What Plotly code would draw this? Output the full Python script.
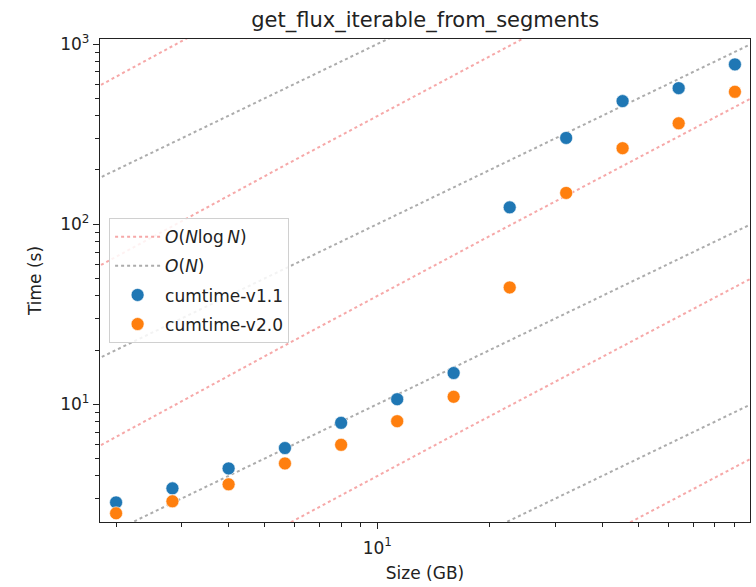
import numpy as np
import plotly.graph_objects as go

# Data
size_gb = [2.0, 2.83, 4.0, 5.66, 8.0, 11.3, 16.0, 22.6, 32.0, 45.3, 64.0, 90.5]
time_v11 = [2.85, 3.41, 4.40, 5.71, 7.88, 10.66, 14.9, 123.9, 301, 482, 569, 771]
time_v20 = [2.48, 2.89, 3.59, 4.69, 5.95, 8.05, 11.0, 44.5, 149, 264, 363, 543]

# Reference-curve coefficients
nlogn_coefs = [0.01, 0.1, 1, 10, 100]
n_coefs = [0.01, 0.1, 1, 10, 100]

xlog_range = [0.258, 1.997]
ylog_range = [0.346, 3.028]

xs = np.logspace(np.log10(1.5), np.log10(120), 300)

fig = go.Figure()

for i, c in enumerate(nlogn_coefs):
    fig.add_trace(go.Scatter(
        x=xs, y=c * xs * np.log10(1000 * xs), mode="lines",
        line=dict(color="rgba(240,110,110,0.6)", width=2, dash="dot"),
        name="<i>O</i>(<i>N</i>log\u2009<i>N</i>)", showlegend=(i == 0),
        legendgroup="a", hoverinfo="skip"))

for i, c in enumerate(n_coefs):
    fig.add_trace(go.Scatter(
        x=xs, y=c * xs, mode="lines",
        line=dict(color="rgba(128,128,128,0.65)", width=2, dash="dot"),
        name="<i>O</i>(<i>N</i>)", showlegend=(i == 0),
        legendgroup="b", hoverinfo="skip"))

fig.add_trace(go.Scatter(
    x=size_gb, y=time_v11, mode="markers", name="cumtime-v1.1",
    legendgroup="c",
    marker=dict(color="#1f77b4", size=13, line=dict(width=0.6, color="white"))))
fig.add_trace(go.Scatter(
    x=size_gb, y=time_v20, mode="markers", name="cumtime-v2.0",
    legendgroup="d",
    marker=dict(color="#ff7f0e", size=13, line=dict(width=0.6, color="white"))))

ymin_minor = []
for d in [1, 10, 100]:
    for k in range(2, 10):
        ymin_minor.append(k * d)
xmin_minor = [k for k in range(2, 10)] + [k * 10 for k in range(2, 10)]

axis_common = dict(
    type="log", showgrid=False, zeroline=False,
    showline=True, linecolor="#222", linewidth=1.3, mirror=True,
    ticks="outside", ticklen=6, tickwidth=1.3, tickcolor="#222",
    tickfont=dict(family="DejaVu Sans", size=17, color="#222"),
)

fig.update_xaxes(
    **axis_common, range=xlog_range,
    tickmode="array", tickvals=[10], ticktext=["10<sup>1</sup>"],
    ticklabelstandoff=4,
    minor=dict(tickmode="array", tickvals=xmin_minor, ticks="outside",
               ticklen=4, tickwidth=1, tickcolor="#222", showgrid=False),
    title=dict(text="Size (GB)", font=dict(family="DejaVu Sans", size=17, color="#222"),
               standoff=10),
)
fig.update_yaxes(
    **axis_common, range=ylog_range,
    tickmode="array", tickvals=[10, 100, 1000],
    ticktext=["10<sup>1</sup>", "10<sup>2</sup>", "10<sup>3</sup>"],
    minor=dict(tickmode="array", tickvals=ymin_minor, ticks="outside",
               ticklen=4, tickwidth=1, tickcolor="#222", showgrid=False),
    title=dict(text="Time (s)", font=dict(family="DejaVu Sans", size=17, color="#222"),
               standoff=14),
)

fig.update_layout(
    width=756, height=587,
    margin=dict(l=100, r=6, t=39, b=65, pad=0),
    plot_bgcolor="white", paper_bgcolor="white",
    title=dict(text="get_flux_iterable_from_segments", x=0.5625, xanchor="center",
               y=0.966, yanchor="middle",
               font=dict(family="DejaVu Sans", size=21, color="#222")),
    legend=dict(x=0.014, y=0.629, xanchor="left", yanchor="top",
                bgcolor="rgba(255,255,255,0.85)", bordercolor="#d0d0d0", borderwidth=1,
                font=dict(family="DejaVu Sans", size=17, color="#222"),
                traceorder="grouped", tracegroupgap=4, itemwidth=45),
    showlegend=True,
)

fig.write_html("out.html")
